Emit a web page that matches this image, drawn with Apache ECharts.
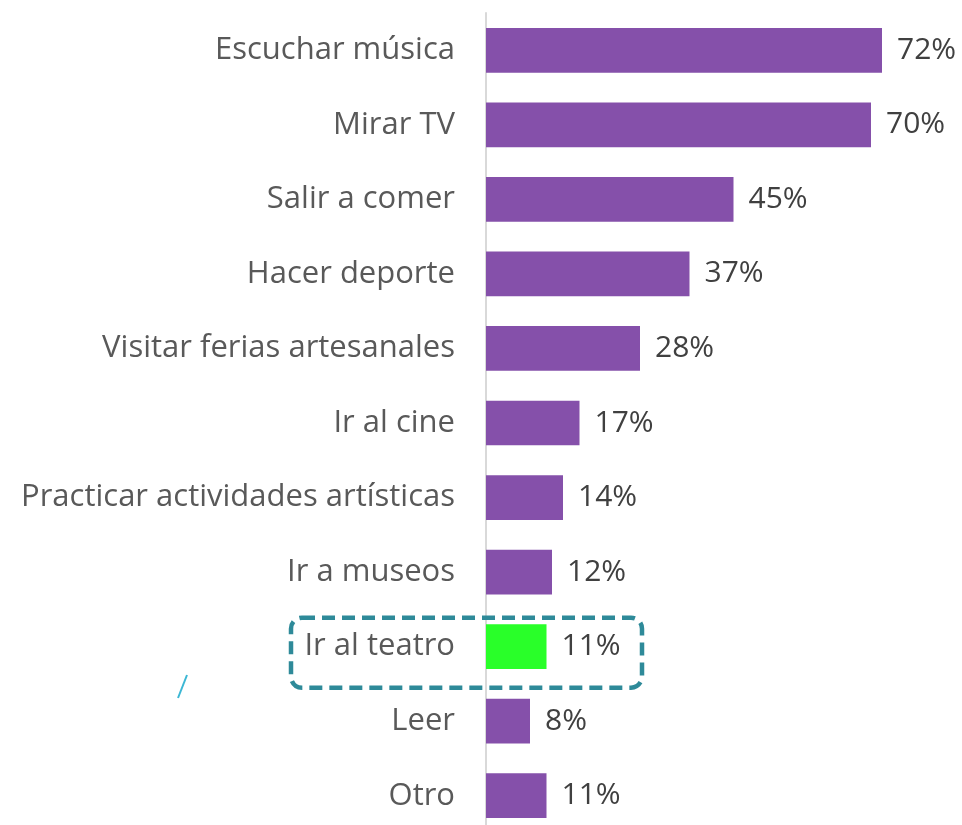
<!DOCTYPE html>
<html>
<head>
<meta charset="utf-8">
<script src="https://cdn.jsdelivr.net/npm/echarts@6/dist/echarts.min.js"></script>
<style>
html,body{margin:0;padding:0;background:#fff;}
#chart{width:962px;height:825px;}
</style>
</head>
<body>
<div id="chart"></div>
<script>
const categories = ["Escuchar música","Mirar TV","Salir a comer","Hacer deporte","Visitar ferias artesanales","Ir al cine","Practicar actividades artísticas","Ir a museos","Ir al teatro","Leer","Otro"];
const values = [72,70,45,37,28,17,14,12,11,8,11];
const highlightCategory = "Ir al teatro";

const FONT = 'Open Sans';
const chart = echarts.init(document.getElementById('chart'));
const option = {
  backgroundColor: '#ffffff',
  animation: false,
  grid: { left: 486, top: 13, width: 550, height: 820, containLabel: false, outerBoundsMode: 'none' },
  xAxis: { type: 'value', min: 0, max: 100, show: false },
  yAxis: {
    type: 'category', inverse: true, data: categories,
    axisLine: { show: true, lineStyle: { color: '#d9d9d9', width: 2 } },
    axisTick: { show: false },
    axisLabel: { margin: 31, fontFamily: FONT, fontSize: 31, color: '#595959', padding: [8, 0, 0, 0] }
  },
  series: [{
    type: 'bar',
    barCategoryGap: '40%',
    data: values.map((v, i) => ({
      value: v,
      itemStyle: { color: categories[i] === highlightCategory ? '#29FF29' : '#8550AA' }
    })),
    label: {
      show: true, position: 'right', distance: 15,
      formatter: p => p.value + '%',
      fontFamily: FONT, fontSize: 30, color: '#404040', padding: [8, 0, 0, 0]
    }
  }]
};
chart.setOption(option);

// annotation box around highlighted row
const idx = categories.indexOf(highlightCategory);
const cy = chart.convertToPixel({ gridIndex: 0 }, [0, idx])[1];
chart.setOption({
  graphic: [
    {
      type: 'rect',
      shape: { x: 291, y: cy - 29, width: 351, height: 70, r: 11 },
      style: { fill: 'none', stroke: '#2E8A99', lineWidth: 4.5, lineDash: [13, 7] },
      z: 100
    },
    {
      type: 'line',
      shape: { x1: 187, y1: 675, x2: 178, y2: 698 },
      style: { stroke: '#3CB7D4', lineWidth: 2 },
      z: 100
    }
  ]
});
</script>
</body>
</html>
